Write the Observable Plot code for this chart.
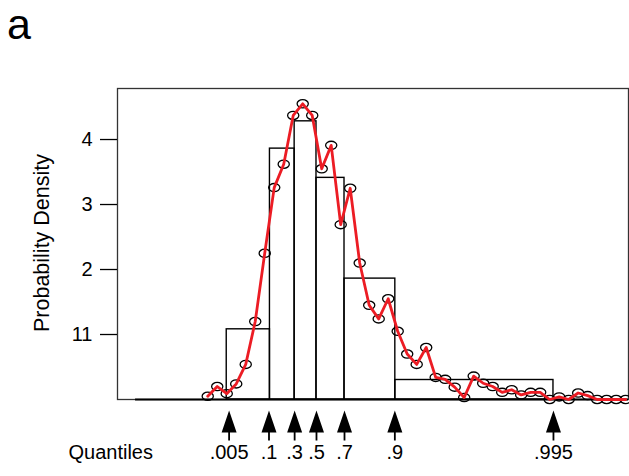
<!DOCTYPE html>
<html>
<head>
<meta charset="utf-8">
<script src="https://cdn.jsdelivr.net/npm/d3@7"></script>
<script src="https://cdn.jsdelivr.net/npm/@observablehq/plot@0.6"></script>
<style>
  html, body { margin: 0; padding: 0; background: #fff; }
  #wrap { position: relative; width: 629px; height: 476px; font-family: "Liberation Sans", Arial, sans-serif; }
  #panel { position: absolute; left: 7px; top: 0px; font-size: 43px; line-height: normal; color: #000; }
  #ylab { position: absolute; left: 43px; top: 243px; font-size: 21.5px; line-height: 1; color: #000;
          white-space: nowrap; transform: translate(-50%, -50%) rotate(-90deg); }
  svg { display: block; }
</style>
</head>
<body>
<div id="wrap"><div id="panel">a</div><div id="ylab">Probability Density</div></div>
<script>
// Density estimate points (bin centres, arbitrary x units) and values
const pointX = [0.19,0.21,0.23,0.25,0.27,0.29,0.31,0.33,0.35,0.37,0.39,0.41,0.43,0.45,0.47,
  0.49,0.51,0.53,0.55,0.57,0.59,0.61,0.63,0.65,0.67,0.69,0.71,0.73,0.75,0.77,
  0.79,0.81,0.83,0.85,0.87,0.89,0.91,0.93,0.95,0.97,0.99,1.01,1.03,1.05,1.07];
const pointDensity = [0.05,0.20,0.09,0.24,0.54,1.20,2.25,3.26,3.62,4.37,4.55,4.37,3.55,3.91,2.69,
  3.25,2.10,1.45,1.24,1.55,1.05,0.70,0.54,0.80,0.34,0.31,0.19,0.03,0.36,0.25,
  0.20,0.11,0.15,0.07,0.11,0.11,0.00,0.04,0.00,0.10,0.06,0.00,0.00,0.00,0.00];

// Quantile histogram
const binEdges = [0.230,0.321,0.373,0.419,0.478,0.585,0.918];
const binHeights = [1.08,3.86,4.28,3.41,1.86,0.30];

// Quantile markers
const quantilePos = [0.235,0.319,0.373,0.419,0.478,0.584,0.918];
const quantileLabels = [".005",".1",".3",".5",".7",".9",".995"];

const yTicks = [1,2,3,4];
const yTickLabels = ["11","2","3","4"];
const xDomain = [0, 1.076];
const yDomain = [0, 4.785];
const baselineStart = 0.038;

const points = pointX.map((x,i)=>({x, y: pointDensity[i]}));
const bins = binHeights.map((h,i)=>({x1: binEdges[i], x2: binEdges[i+1], y: h}));
const quants = quantilePos.map((x,i)=>({x, label: quantileLabels[i]}));

const ellipse = { draw(ctx) {
  const rx = 5.6, ry = 4.1, k = 0.5523;
  ctx.moveTo(rx, 0);
  ctx.bezierCurveTo(rx, ry*k, rx*k, ry, 0, ry);
  ctx.bezierCurveTo(-rx*k, ry, -rx, ry*k, -rx, 0);
  ctx.bezierCurveTo(-rx, -ry*k, -rx*k, -ry, 0, -ry);
  ctx.bezierCurveTo(rx*k, -ry, rx, -ry*k, rx, 0);
  ctx.closePath();
}};
const arrow = { draw(ctx) {
  ctx.moveTo(0, -15);
  ctx.lineTo(7.5, 7);
  ctx.lineTo(0.9, 7);
  ctx.lineTo(0.9, 15);
  ctx.lineTo(-0.9, 15);
  ctx.lineTo(-0.9, 7);
  ctx.lineTo(-7.5, 7);
  ctx.closePath();
}};

const chart = Plot.plot({
  width: 629,
  height: 476,
  marginLeft: 117,
  marginRight: 1,
  marginTop: 88,
  marginBottom: 77,
  style: { fontFamily: "'Liberation Sans', Arial, sans-serif", fontSize: "20px", color: "#000", background: "transparent" },
  x: { domain: xDomain, axis: null },
  y: { domain: yDomain },
  marks: [
    Plot.frame({ stroke: "#333", strokeWidth: 1.3 }),
    Plot.rectY(bins, { x1: "x1", x2: "x2", y: "y", fill: "none", stroke: "#000", strokeWidth: 1.4 }),
    Plot.ruleY([0], { x1: baselineStart, x2: xDomain[1], stroke: "#000", strokeWidth: 2 }),
    Plot.dot(points, { x: "x", y: "y", symbol: ellipse, r: 5, fill: "none", stroke: "#000", strokeWidth: 1.3 }),
    Plot.line(points, { x: "x", y: "y", stroke: "#ec1c24", strokeWidth: 2.8 }),
    Plot.axisY({ ticks: yTicks, tickSize: 17, tickPadding: 8, strokeWidth: 1.3, fontSize: 20,
      tickFormat: d => yTickLabels[yTicks.indexOf(d)], label: null }),
    Plot.dot(quants, { x: "x", frameAnchor: "bottom", dy: 26, symbol: arrow, r: 5, fill: "#000", stroke: "none" }),
    Plot.text(quants, { x: "x", text: "label", frameAnchor: "bottom", dy: 59, fontSize: 20, fill: "#000" }),
    Plot.text(["Quantiles"], { frameAnchor: "bottom-left", dx: -49, dy: 59, textAnchor: "start", fontSize: 20, fill: "#000" })
  ]
});
document.getElementById("wrap").prepend(chart);
</script>
</body>
</html>
